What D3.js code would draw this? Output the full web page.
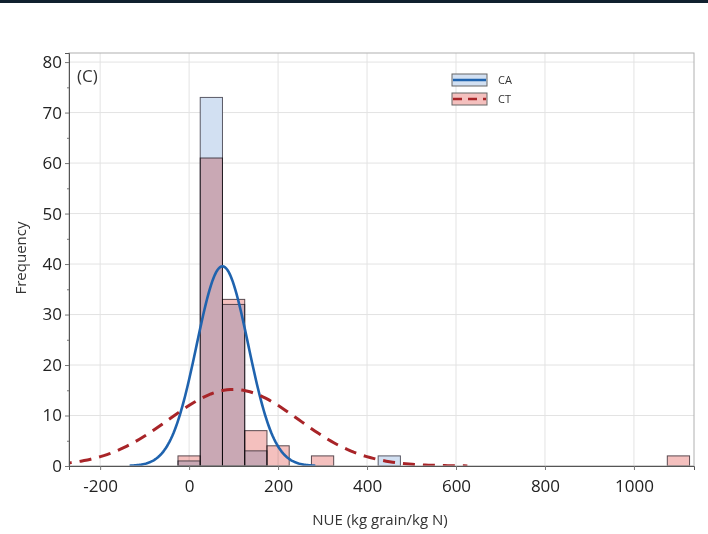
<!DOCTYPE html>
<html>
<head>
<meta charset="utf-8">
<script src="https://cdn.jsdelivr.net/npm/d3@7"></script>
<style>
  body { margin: 0; background: #fff; }
  svg text { font-family: "Open Sans", "Noto Sans", sans-serif; }
</style>
</head>
<body>
<svg id="chart" width="708" height="534"></svg>
<script>
// histogram bins (centres, width 50)
const binCentres = [0, 50, 100, 150, 200, 300, 450, 1100];
const caCounts   = [1, 73, 32, 3, 0, 0, 2, 0];
const ctCounts   = [2, 61, 33, 7, 4, 2, 0, 2];
const binWidth = 50;

// fitted normal curves
const series = ['CA', 'CT'];
const fitMean = [75, 100];
const fitSd   = [58, 146];
const fitN    = [115, 111];

const xTicks = [-200, 0, 200, 400, 600, 800, 1000];
const yTicks = [0, 10, 20, 30, 40, 50, 60, 70, 80];

const width = 708, height = 534;
const margin = { top: 53, right: 14, bottom: 68, left: 69 };

let svg = d3.select('#chart');

// dark strip at the very top of the screenshot
svg.append('rect').attr('x', 0).attr('y', 0).attr('width', width).attr('height', 3)
    .attr('fill', '#10202e');

let x = d3.scaleLinear().domain([-270, 1135]).range([margin.left, width - margin.right]);
let y = d3.scaleLinear().domain([0, 81.8]).range([height - margin.bottom, margin.top]);

let plot = svg.append('g');

// grid
plot.selectAll('.vg').data(xTicks).enter().append('line')
    .attr('x1', d => x(d)).attr('x2', d => x(d))
    .attr('y1', y.range()[1]).attr('y2', y.range()[0])
    .attr('stroke', '#e3e3e3');
plot.selectAll('.hg').data(yTicks).enter().append('line')
    .attr('x1', x.range()[0]).attr('x2', x.range()[1])
    .attr('y1', d => y(d)).attr('y2', d => y(d))
    .attr('stroke', '#e3e3e3');

svg.append('clipPath').attr('id', 'clip').append('rect')
    .attr('x', x.range()[0]).attr('y', y.range()[1])
    .attr('width', x.range()[1] - x.range()[0]).attr('height', y.range()[0] - y.range()[1]);

let bars = plot.append('g');
// CA bars
bars.selectAll('.ca').data(binCentres.map((c, i) => ({ c, v: caCounts[i] })).filter(d => d.v > 0))
    .enter().append('rect')
    .attr('x', d => x(d.c - binWidth / 2)).attr('width', d => x(d.c + binWidth / 2) - x(d.c - binWidth / 2))
    .attr('y', d => y(d.v)).attr('height', d => y(0) - y(d.v))
    .attr('fill', '#d2e0f2').attr('stroke', '#5a5a66').attr('stroke-width', 1);
// CT bars, multiplied over CA
bars.selectAll('.ct').data(binCentres.map((c, i) => ({ c, v: ctCounts[i] })).filter(d => d.v > 0))
    .enter().append('rect')
    .attr('x', d => x(d.c - binWidth / 2)).attr('width', d => x(d.c + binWidth / 2) - x(d.c - binWidth / 2))
    .attr('y', d => y(d.v)).attr('height', d => y(0) - y(d.v))
    .attr('fill', '#f4c0be').style('mix-blend-mode', 'multiply')
    .attr('stroke', '#5a4a50').attr('stroke-width', 1);

// normal fits
let density = (v, m, s, n) => n * binWidth * Math.exp(-0.5 * ((v - m) / s) ** 2) / (s * Math.sqrt(2 * Math.PI));
let curve = i => d3.range(-3.6, 3.6001, 0.05).map(z => {
    let v = fitMean[i] + z * fitSd[i];
    return [x(v), y(density(v, fitMean[i], fitSd[i], fitN[i]))];
});
let lines = plot.append('g').attr('clip-path', 'url(#clip)');
lines.append('path').attr('d', d3.line()(curve(0)))
    .attr('fill', 'none').attr('stroke', '#1f63ae').attr('stroke-width', 2.6);
lines.append('path').attr('d', d3.line()(curve(1)))
    .attr('fill', 'none').attr('stroke', '#a82428').attr('stroke-width', 3)
    .attr('stroke-dasharray', '12,8');

// frame
plot.append('rect').attr('x', x.range()[0]).attr('y', y.range()[1])
    .attr('width', x.range()[1] - x.range()[0]).attr('height', y.range()[0] - y.range()[1])
    .attr('fill', 'none').attr('stroke', '#b0b0b0');

// axes
let xAxis = svg.append('g').attr('transform', `translate(0,${y(0)})`)
    .call(d3.axisBottom(x).tickValues(xTicks).tickSize(4).tickPadding(10).tickFormat(d => String(d)));
let yAxis = svg.append('g').attr('transform', `translate(${x.range()[0]},0)`)
    .call(d3.axisLeft(y).tickValues(yTicks).tickSize(4).tickPadding(3).tickFormat(d => String(d)));
svg.append('g').attr('transform', `translate(${x.range()[0]},0)`)
    .call(d3.axisLeft(y).tickValues(d3.range(5, 80, 10)).tickSize(2).tickFormat(''))
    .call(g => g.select('.domain').remove());
[xAxis, yAxis].forEach(g => {
    g.select('.domain').attr('stroke', '#555');
    g.selectAll('.tick text').attr('fill', '#222').style('font-size', '17px');
});
svg.selectAll('.tick line').attr('stroke', '#777');

svg.append('text').attr('x', 380).attr('y', 525).attr('text-anchor', 'middle')
    .attr('fill', '#333').style('font-size', '15px').text('NUE (kg grain/kg N)');
svg.append('text').attr('transform', 'translate(26,258) rotate(-90)').attr('text-anchor', 'middle')
    .attr('fill', '#333').style('font-size', '15px').text('Frequency');

svg.append('text').attr('x', 77).attr('y', 82).attr('fill', '#333')
    .style('font-size', '17px').text('(C)');

// legend
let legend = svg.append('g').attr('transform', 'translate(452,74)');
let legFill = ['#d2e0f2', '#f4c0be'];
let legLine = ['#1f63ae', '#a82428'];
series.forEach((s, i) => {
    let g = legend.append('g').attr('transform', `translate(0,${i * 19})`);
    g.append('rect').attr('width', 35).attr('height', 12)
        .attr('fill', legFill[i]).attr('stroke', '#666');
    g.append('line').attr('x1', 1).attr('x2', 34).attr('y1', 6).attr('y2', 6)
        .attr('stroke', legLine[i]).attr('stroke-width', 2.5)
        .attr('stroke-dasharray', i === 1 ? '9,6' : null);
    g.append('text').attr('x', 46).attr('y', 10).attr('fill', '#333')
        .style('font-size', '11px').text(s);
});
</script>
</body>
</html>
